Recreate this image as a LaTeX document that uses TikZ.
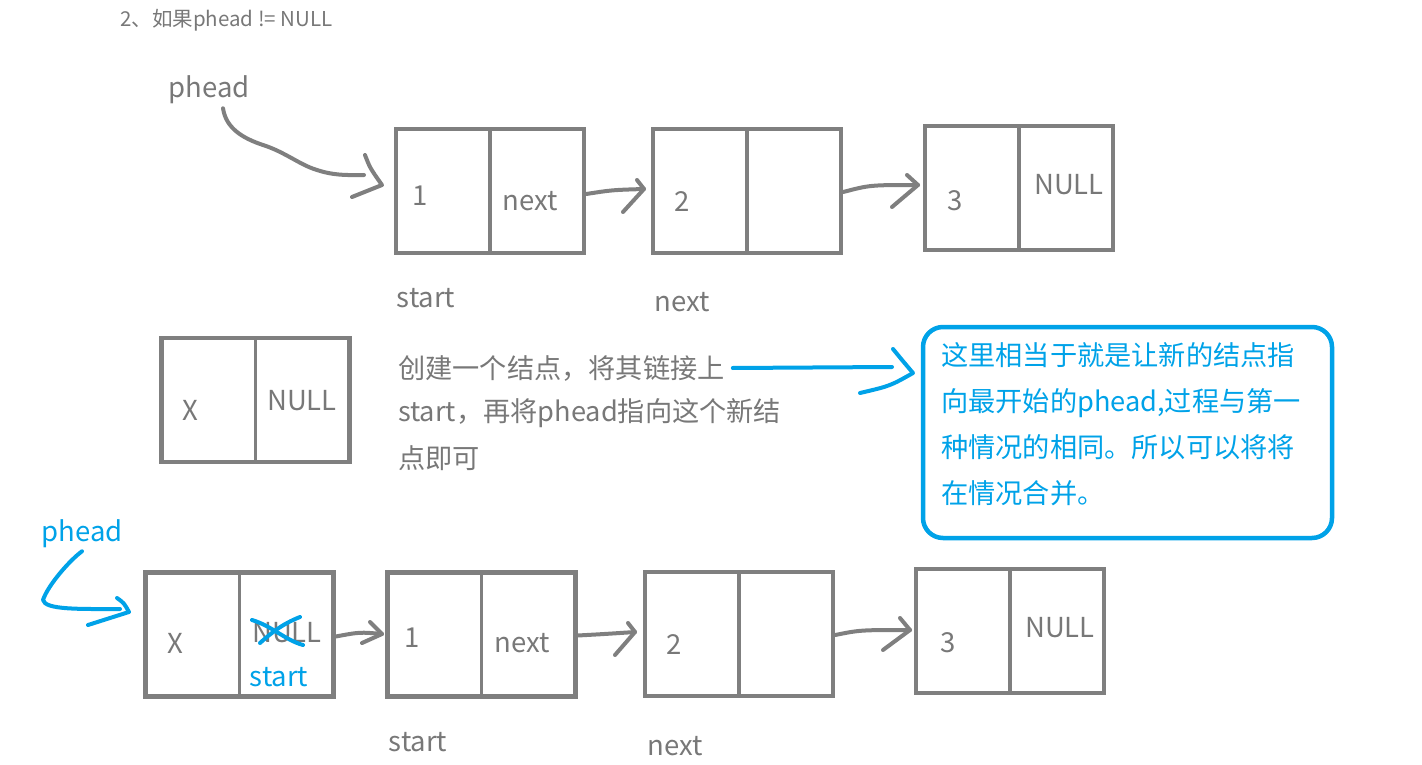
\documentclass[tikz,border=0pt]{standalone}
\usepackage{fontspec}
\setmainfont{Noto Sans CJK SC}
\usetikzlibrary{positioning,calc}

\definecolor{linegray}{RGB}{127,127,127}
\definecolor{textgray}{RGB}{120,120,120}
\definecolor{paintblue}{RGB}{0,162,232}

\tikzset{
  listbox/.style={draw=linegray, line width=4.5pt, minimum width=188pt, minimum height=124pt, inner sep=0pt},
  divline/.style={draw=linegray, line width=3.2pt},
  pen/.style={draw=linegray, line width=4pt, line cap=round, line join=round},
  bluepen/.style={draw=paintblue, line width=4pt, line cap=round, line join=round},
  lbl/.style={text=textgray, inner sep=0pt, font=\fontsize{27.5}{32}\selectfont},
  desc/.style={text=textgray, inner sep=0pt, anchor=west, font=\fontsize{27.2}{32}\selectfont},
}

\begin{document}
\begin{tikzpicture}[x=1pt, y=-1pt]
  \useasboundingbox (0,0) rectangle (1422,765);

  % title
  \node[text=textgray, inner sep=0pt, anchor=west, font=\fontsize{20.5}{24}\selectfont] (title) at (120,20) {2、如果phead != NULL};

  % first list
  \node[listbox] (t1) at (490,191) {};
  \node[listbox] (t2) at (747,191) {};
  \node[listbox] (t3) at (1019,188) {};
  \foreach \b in {t1,t2,t3}
    \draw[divline] ([yshift=-3pt]\b.north) -- (\b.south);

  \node[lbl] (v1) at (420,196) {1};
  \node[lbl] (n1) at (530,201) {next};
  \node[lbl] (v2) at (682,202) {2};
  \node[lbl] (v3) at (955,201) {3};
  \node[lbl] (n3) at (1069,185) {NULL};
  \node[lbl] (s1) at (426,298) {start};
  \node[lbl] (s2) at (682,302) {next};

  \node[lbl] (ph1) at (209,90) {phead};

  % hand drawn pointers
  \coordinate (phtip) at (382,185);
  \draw[pen] ([xshift=14pt,yshift=-4pt]ph1.south) .. controls (226,128) and (242,138) .. (263,145)
    .. controls (285,152) and (300,165) .. (317,170) .. controls (335,176) and (350,175) .. (364,175);
  \draw[pen] (365,155) .. controls (370,168) .. (phtip) -- (352,197);

  \coordinate (tip12) at (644,189);
  \draw[pen] ([yshift=-3pt]t1.east) .. controls (612,190) .. (tip12);
  \draw[pen] (637,180) -- (tip12) -- (623,212);

  \coordinate (tip23) at (918,185);
  \draw[pen] ([yshift=-1pt]t2.east) .. controls (870,185) .. (tip23);
  \draw[pen] (907,175) -- (tip23) -- (892,207);

  % new node
  \node[listbox] (x1) at (255.5,400) {};
  \draw[divline] ([yshift=-3pt]x1.north) -- (x1.south);
  \node[lbl] (xv) at (190,410) {X};
  \node[lbl] (xn) at (302,401) {NULL};

  \node[desc] (d1) at (398,368) {创建一个结点，将其链接上};
  \node[desc] (d2) at (398,413) {start，再将phead指向这个新结};
  \node[desc] (d3) at (398,458) {点即可};

  % remark
  \node[draw=paintblue, line width=4.5pt, rounded corners=20pt, minimum width=409pt, minimum height=211pt,
        inner sep=0pt] (note) at (1127.5,432.5) {};
  \node[text=paintblue, inner sep=0pt, anchor=north west, align=left,
        font=\fontsize{27.2}{46}\selectfont] (notetext) at (941,342)
    {这里相当于就是让新的结点指\\向最开始的phead,过程与第一\\种情况的相同。所以可以将将\\在情况合并。};

  \coordinate (notetip) at (913,373);
  \draw[bluepen] ([xshift=8pt]d1.east) -- (892,367);
  \draw[bluepen] (893,349) .. controls (902,360) .. (notetip) .. controls (890,386) .. (860,393);

  % second list
  \node[listbox] (b0) at (239.5,634.5) {};
  \node[listbox] (b1) at (481.5,634.5) {};
  \node[listbox] (b2) at (739,634) {};
  \node[listbox] (b3) at (1010,631) {};
  \foreach \b in {b0,b1,b2,b3}
    \draw[divline] ([yshift=-3pt]\b.north) -- (\b.south);

  \node[lbl] (bx) at (175,643) {X};
  \node[lbl] (bn0) at (287,633) {NULL};
  \node[lbl, text=paintblue] (bs0) at (279,677) {start};
  \node[lbl] (bv1) at (412,638) {1};
  \node[lbl] (bn1) at (522,643) {next};
  \node[lbl] (bv2) at (674,645) {2};
  \node[lbl] (bv3) at (948,643) {3};
  \node[lbl] (bn3) at (1060,628) {NULL};
  \node[lbl] (bs1) at (418,742) {start};
  \node[lbl] (bs2) at (675,746) {next};

  % crossed out NULL
  \draw[bluepen] (252,620) .. controls (272,626) and (285,640) .. (303,645);
  \draw[bluepen] (300,617) .. controls (282,624) and (270,634) .. (260,643);

  \node[lbl, text=paintblue] (ph2) at (82,534) {phead};
  \coordinate (ph2tip) at (129,612);
  \draw[bluepen] ([yshift=-3pt]ph2.south) .. controls (70,560) and (48,585) .. (43,600)
    .. controls (45,610) and (80,609) .. (120,609);
  \draw[bluepen] (117,598) .. controls (124,603) .. (ph2tip) .. controls (110,618) .. (88,625);

  \coordinate (tipb01) at (382,634);
  \draw[pen] ([yshift=-2pt]b0.east) .. controls (360,632) .. (tipb01);
  \draw[pen] (370,622) -- (tipb01) -- (362,643);

  \coordinate (tipb12) at (635,632);
  \draw[pen] ([yshift=-1pt]b1.east) .. controls (605,634) .. (tipb12);
  \draw[pen] (628,623) -- (tipb12) -- (615,655);

  \coordinate (tipb23) at (910,630);
  \draw[pen] ([yshift=-1pt]b2.east) .. controls (860,630) .. (tipb23);
  \draw[pen] (900,618) -- (tipb23) -- (883,650);
\end{tikzpicture}
\end{document}
